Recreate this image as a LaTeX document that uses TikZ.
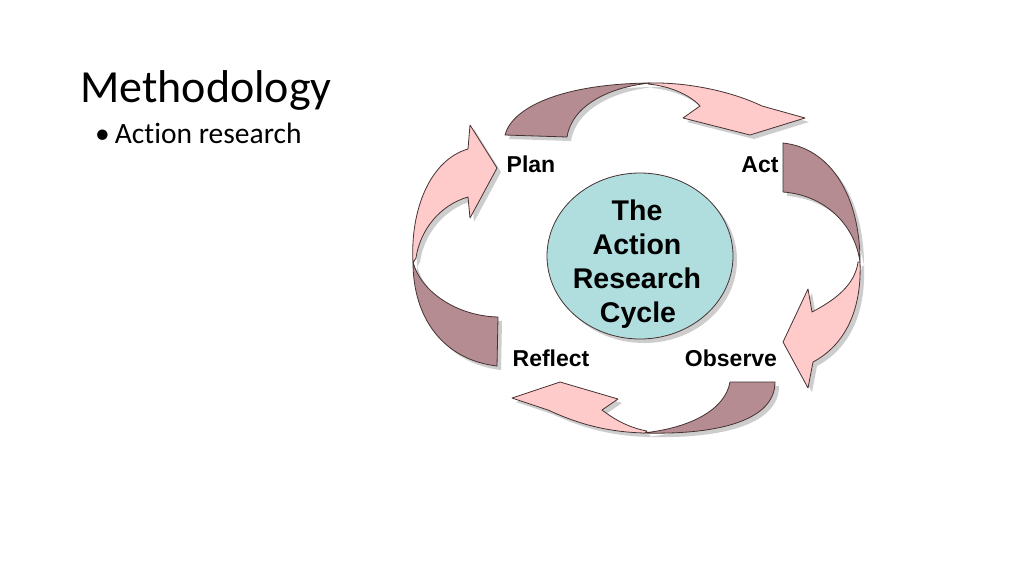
\documentclass[tikz,border=0pt]{standalone}
\usepackage{fontspec}
\usetikzlibrary{shapes.geometric}
\setmainfont[Ligatures=NoCommon]{Carlito}
\newfontfamily\arialfont{Liberation Sans}
\definecolor{pinkfill}{RGB}{255,202,202}
\definecolor{darkfill}{RGB}{180,140,145}
\definecolor{edgecol}{RGB}{70,50,50}
\definecolor{circfill}{RGB}{176,222,222}
\definecolor{shadowcol}{RGB}{185,185,185}
\tikzset{
  pinkpart/.style={fill=pinkfill,draw=edgecol,line width=0.8pt,line join=round},
  darkpart/.style={fill=darkfill,draw=edgecol,line width=0.8pt,line join=round},
  shadowpart/.style={fill=shadowcol,draw=none,opacity=0.7},
  lbl/.style={font=\arialfont\bfseries\fontsize{23}{27}\selectfont,anchor=base,inner sep=0pt},
  ctext/.style={font=\arialfont\bfseries\fontsize{28.5}{34}\selectfont,anchor=base,inner sep=0pt}
}
\begin{document}
\begin{tikzpicture}[x=1pt,y=-1pt]
\useasboundingbox[fill=white] (0,0) rectangle (1024,576);

% title
\node[anchor=base west,inner sep=0pt,font=\fontsize{46}{50}\selectfont] (title) at (80,102) {Methodology};
\node[anchor=base west,inner sep=0pt,font=\fontsize{29.5}{34}\selectfont] (bullet) at (95,143) {\textbullet\hspace{5pt}Action research};

% path definitions
\def\topdark{(505,135) .. controls (512,108) and (560,84) .. (650,83) .. controls (610,87) and (572,105) .. (567,137) -- cycle}
\def\toppink{(648,83) .. controls (692,82) and (735,93) .. (762,106) -- (805,118) -- (750,135) -- (683,118) -- (700,106) .. controls (690,95) and (670,86) .. (648,84) -- cycle}
\def\leftdark{(497,366) .. controls (445,360) and (413,320) .. (413,262) .. controls (420,290) and (455,316) .. (498,317) -- cycle}
\def\leftpink{(413,263) .. controls (410,210) and (430,160) .. (468,149) -- (470,125) -- (497,168) -- (470,218) -- (468,197) .. controls (440,205) and (420,230) .. (416,258) -- cycle}
\def\rightdark{(783,143) .. controls (830,148) and (860,195) .. (860,262) .. controls (855,225) and (825,195) .. (783,192) -- cycle}
\def\rightpink{(860,262) .. controls (862,310) and (845,345) .. (813,362) -- (808,388) -- (783,342) -- (808,289) -- (812,312) .. controls (835,300) and (855,285) .. (858,262) -- cycle}
\def\botdark{(775,382) .. controls (775,420) and (720,435) .. (643,433) .. controls (690,428) and (725,410) .. (730,382) -- cycle}
\def\botpink{(645,433) .. controls (600,432) and (570,420) .. (548,410) -- (512,398) -- (560,382) -- (618,399) -- (602,410) .. controls (615,420) and (630,428) .. (647,431) -- cycle}

% shadows
\begin{scope}[shift={(4,4)}]
  \fill[shadowpart] \topdark; \fill[shadowpart] \toppink;
  \fill[shadowpart] \leftdark; \fill[shadowpart] \leftpink;
  \fill[shadowpart] \rightdark; \fill[shadowpart] \rightpink;
  \fill[shadowpart] \botdark; \fill[shadowpart] \botpink;
  \fill[shadowpart] (640,256) ellipse[x radius=93,y radius=83];
\end{scope}

% arrows
\path[darkpart] \topdark; \path[pinkpart] \toppink;
\path[darkpart] \leftdark; \path[pinkpart] \leftpink;
\path[darkpart] \rightdark; \path[pinkpart] \rightpink;
\path[darkpart] \botdark; \path[pinkpart] \botpink;

% centre circle
\node[ellipse,minimum width=186pt,minimum height=166pt,fill=circfill,draw=edgecol,line width=0.8pt,inner sep=0pt] (cycle) at (640,256) {};
\node[ctext] (t1) at (637,220) {The};
\node[ctext] (t2) at (637,254) {Action};
\node[ctext] (t3) at (637,288) {Research};
\node[ctext] (t4) at (638,322) {Cycle};

% stage labels
\node[lbl] (plan) at (531,172) {Plan};
\node[lbl] (act) at (760,172) {Act};
\node[lbl] (reflect) at (551,366) {Reflect};
\node[lbl] (observe) at (731,366) {Observe};
\end{tikzpicture}
\end{document}
